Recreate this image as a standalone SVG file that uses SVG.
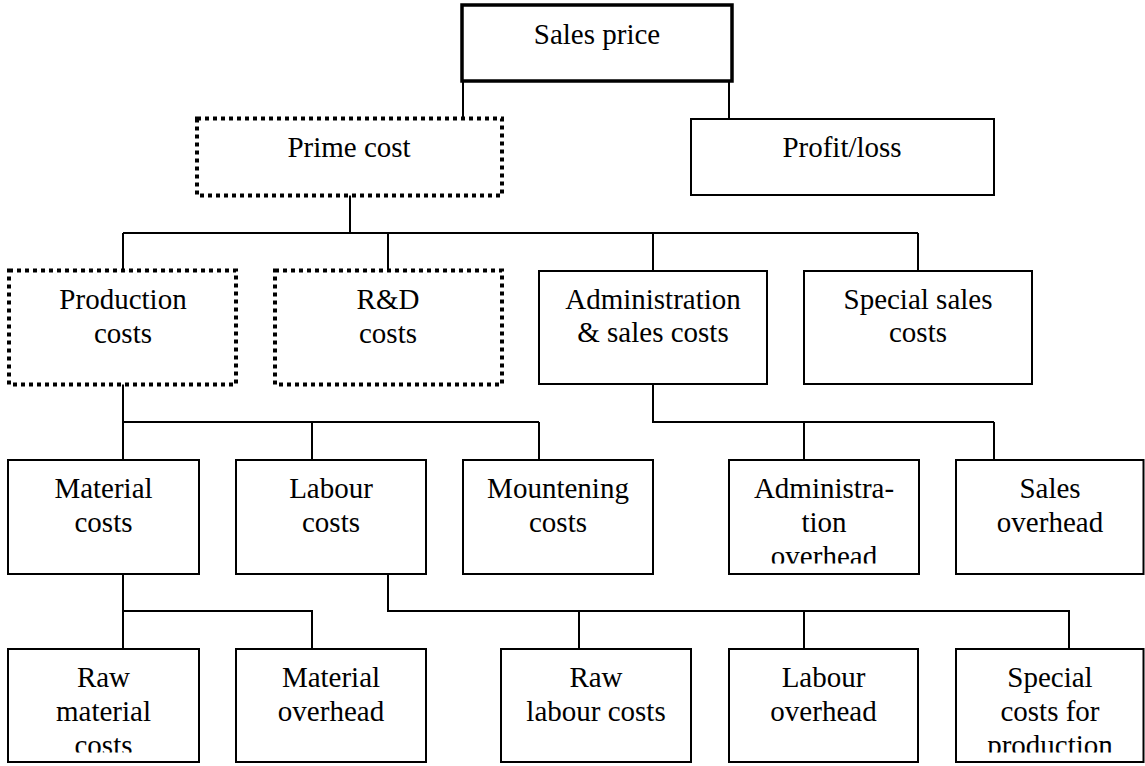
<svg xmlns="http://www.w3.org/2000/svg" width="1145" height="766" viewBox="0 0 1145 766">
<style>
.box{fill:#fff;stroke:#000;stroke-width:2}
.thick{fill:#fff;stroke:#000;stroke-width:3.5}
.dot{fill:#fff;stroke:#000;stroke-width:4;stroke-dasharray:4 4}
.t{font-family:"Liberation Serif","Times New Roman",serif;font-size:29px;fill:#000;text-anchor:middle}
.conn{fill:none;stroke:#000;stroke-width:2}
</style>
<defs>
<clipPath id="c1"><rect x="729" y="460" width="190" height="103.5"/></clipPath>
<clipPath id="c2"><rect x="8" y="649" width="191" height="103.5"/></clipPath>
<clipPath id="c3"><rect x="956" y="649" width="189" height="103.5"/></clipPath>
</defs>
<rect width="1145" height="766" fill="#fff"/>
<g id="connectors">
<path class="conn" d="M463 82V118M729 82V119"/>
<path class="conn" d="M350 195V233M123 233H918M123 233V271M388 233V271M653 233V271M918 233V271"/>
<path class="conn" d="M123 384V422H539M123 422V460M312 422V460M539 422V460"/>
<path class="conn" d="M653 384V422H994M804 422V460M994 422V460"/>
<path class="conn" d="M123 574V611H312V649M123 611V649"/>
<path class="conn" d="M388 574V611H1069V649M579 611V649M804 611V649"/>
</g>
<g id="sales-price"><rect class="thick" x="462" y="5" width="270" height="76"/><text class="t" x="597" y="44">Sales price</text></g>
<g id="prime-cost"><rect class="dot" x="197" y="118.5" width="305" height="77"/><text class="t" x="349" y="157">Prime cost</text></g>
<g id="profit-loss"><rect class="box" x="691" y="119" width="303" height="76"/><text class="t" x="842" y="157">Profit/loss</text></g>
<g id="production-costs"><rect class="dot" x="9" y="270.5" width="227" height="114"/><text class="t" x="123" y="309">Production</text><text class="t" x="123" y="343">costs</text></g>
<g id="rd-costs"><rect class="dot" x="275" y="270.5" width="227" height="114"/><text class="t" x="388" y="309">R&amp;D</text><text class="t" x="388" y="343">costs</text></g>
<g id="admin-sales-costs"><rect class="box" x="539" y="271" width="228" height="113"/><text class="t" x="653" y="309">Administration</text><text class="t" x="653" y="342">&amp; sales costs</text></g>
<g id="special-sales-costs"><rect class="box" x="804" y="271" width="228" height="113"/><text class="t" x="918" y="309">Special sales</text><text class="t" x="918" y="342">costs</text></g>
<g id="material-costs"><rect class="box" x="8" y="460" width="191" height="114"/><text class="t" x="103.5" y="498">Material</text><text class="t" x="103.5" y="532">costs</text></g>
<g id="labour-costs"><rect class="box" x="236" y="460" width="190" height="114"/><text class="t" x="331" y="498">Labour</text><text class="t" x="331" y="532">costs</text></g>
<g id="mountening-costs"><rect class="box" x="463" y="460" width="190" height="114"/><text class="t" x="558" y="498">Mountening</text><text class="t" x="558" y="532">costs</text></g>
<g id="admin-overhead"><rect class="box" x="729" y="460" width="190" height="114"/><g clip-path="url(#c1)"><text class="t" x="824" y="498">Administra-</text><text class="t" x="824" y="532">tion</text><text class="t" x="824" y="566">overhead</text></g></g>
<g id="sales-overhead"><rect class="box" x="956" y="460" width="187.5" height="114"/><text class="t" x="1050" y="498">Sales</text><text class="t" x="1050" y="532">overhead</text></g>
<g id="raw-material-costs"><rect class="box" x="8" y="649" width="191" height="113"/><g clip-path="url(#c2)"><text class="t" x="103.5" y="687">Raw</text><text class="t" x="103.5" y="721">material</text><text class="t" x="103.5" y="755">costs</text></g></g>
<g id="material-overhead"><rect class="box" x="236" y="649" width="190" height="113"/><text class="t" x="331" y="687">Material</text><text class="t" x="331" y="721">overhead</text></g>
<g id="raw-labour-costs"><rect class="box" x="501" y="649" width="190" height="113"/><text class="t" x="596" y="687">Raw</text><text class="t" x="596" y="721">labour costs</text></g>
<g id="labour-overhead"><rect class="box" x="729" y="649" width="189" height="113"/><text class="t" x="823.5" y="687">Labour</text><text class="t" x="823.5" y="721">overhead</text></g>
<g id="special-costs-production"><rect class="box" x="956" y="649" width="187.5" height="113"/><g clip-path="url(#c3)"><text class="t" x="1050" y="687">Special</text><text class="t" x="1050" y="721">costs for</text><text class="t" x="1050" y="755">production</text></g></g>
</svg>
